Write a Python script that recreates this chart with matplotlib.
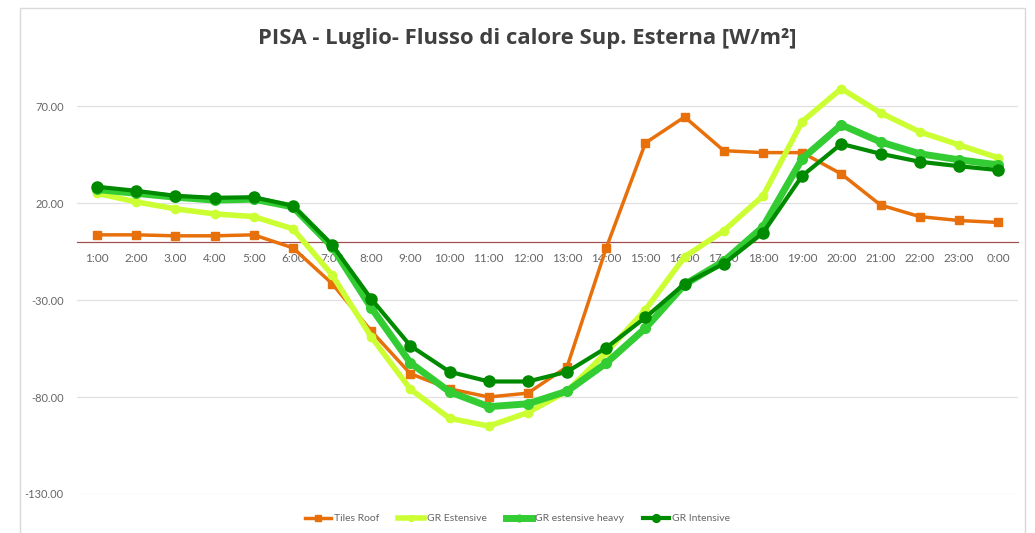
import matplotlib.pyplot as plt
from matplotlib.patches import Rectangle

hours = ['1:00', '2:00', '3.00', '4:00', '5:00', '6:00', '7:00', '8:00', '9:00', '10:00',
         '11:00', '12:00', '13:00', '14:00', '15:00', '16:00', '17:00', '18:00', '19:00',
         '20:00', '21:00', '22:00', '23:00', '0:00']

tiles_roof = [3.6, 3.6, 3.1, 3.1, 3.6, -3.1, -21.5, -46, -68, -75.8, -80, -78, -64.4,
              -3.1, 51, 64.4, 47, 46, 46, 35, 19, 13, 11, 10]
gr_estensive = [25, 20.6, 17, 14.4, 13, 6.7, -17, -49, -76, -91, -95, -88, -77,
                -57, -35, -7.7, 5.7, 23.7, 62, 79, 66.5, 56.7, 50, 43.3]
gr_est_heavy = [27, 25, 23, 21.5, 22, 18, -2.5, -34, -62.4, -77.3, -85, -83.5, -77,
                -62.5, -44.5, -22, -10, 7.7, 42.8, 60.3, 51.5, 45.4, 42.3, 39.7]
gr_intensive = [28.4, 26.3, 23.7, 22.7, 23, 18.6, -1.5, -29.4, -53.6, -67, -72, -72, -67,
                -54.6, -39, -21.6, -11.3, 4.6, 34, 50.5, 45.4, 41.3, 39, 37]

x = list(range(len(hours)))

fig = plt.figure(figsize=(10.35, 5.33), dpi=100)
fig.patches.append(Rectangle((20 / 1035, -0.01), 1005 / 1035, 1 - 8 / 533 + 0.01,
                             transform=fig.transFigure, fill=False,
                             edgecolor='#d9d9d9', linewidth=1))
ax = fig.add_axes([0.0748, 0.0732, 0.9084, 0.8188])

# spine position first: it resets the ticks
ax.spines['bottom'].set_position(('data', 0))
ax.spines['bottom'].set_color('#a05050')
ax.spines['bottom'].set_linewidth(0.9)
for s in ['top', 'right', 'left']:
    ax.spines[s].set_visible(False)

ax.plot(x, tiles_roof, color='#E8700A', linewidth=2.5, marker='s', markersize=6,
        label='Tiles Roof', zorder=3)
ax.plot(x, gr_estensive, color='#CCFF33', linewidth=4, marker='o', markersize=6,
        label='GR Estensive', zorder=4)
ax.plot(x, gr_est_heavy, color='#33CC33', linewidth=5, marker='o', markersize=7,
        label='GR estensive heavy', zorder=5)
ax.plot(x, gr_intensive, color='#008A00', linewidth=3, marker='o', markersize=8,
        label='GR Intensive', zorder=6)

ax.set_xlim(-0.5, len(hours) - 0.5)
ax.set_ylim(-130, 95)
ax.set_yticks([-130, -80, -30, 20, 70])
ax.set_yticklabels([f'{v:.2f}' for v in [-130, -80, -30, 20, 70]],
                   fontsize=8, color='#666666', family='Lato')
ax.yaxis.grid(True, color='#e0e0e0', linewidth=0.9)
ax.set_axisbelow(True)

ax.set_xticks(x)
ax.set_xticklabels(hours, fontsize=8.5, color='#666666', family='Lato')
ax.tick_params(axis='both', length=0, pad=8)
ax.tick_params(axis='y', pad=10)

fig.text(0.509, 0.927, 'PISA - Luglio- Flusso di calore Sup. Esterna [W/m²]',
         ha='center', va='center', fontsize=15.8, fontweight='bold', color='#404040',
         family='Open Sans')

fig.legend(loc='center', bbox_to_anchor=(0.5, 0.027), ncol=4, frameon=False,
           prop={'family': 'Lato', 'size': 7.5}, labelcolor='#666666',
           handlelength=2.5, handletextpad=0.3, columnspacing=1.8, markerscale=0.7)

fig.savefig('out.png', dpi=100)
